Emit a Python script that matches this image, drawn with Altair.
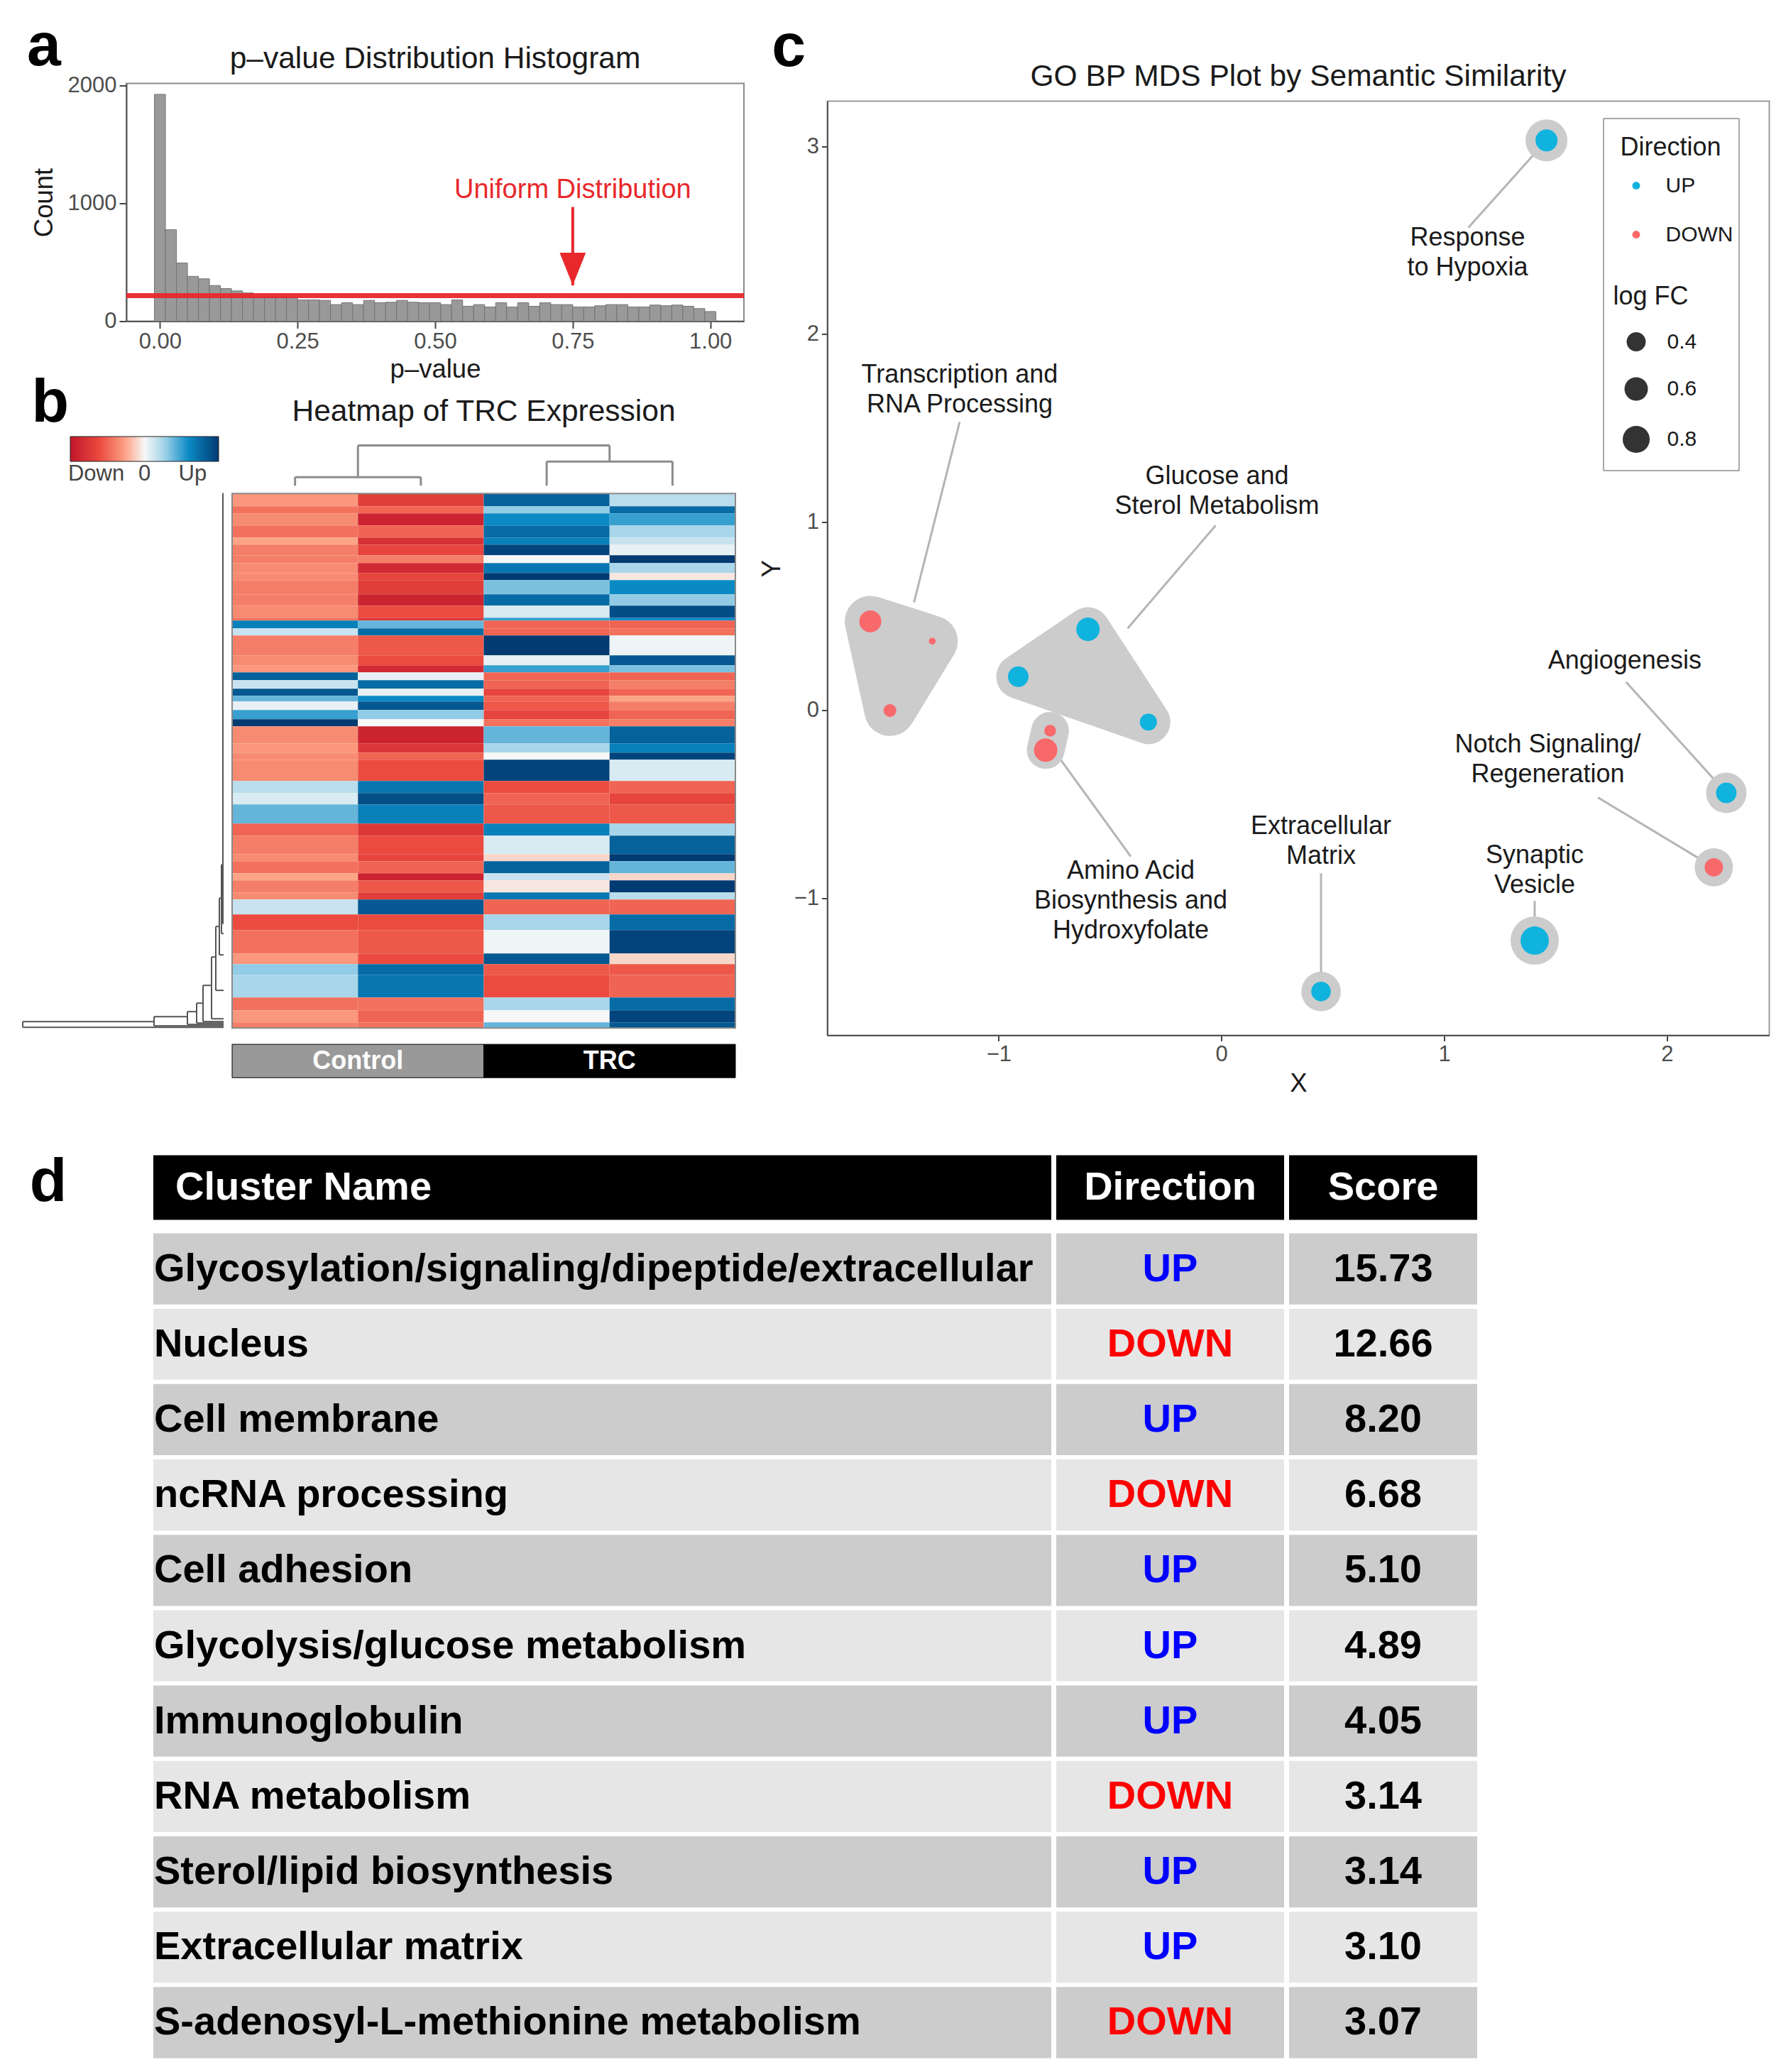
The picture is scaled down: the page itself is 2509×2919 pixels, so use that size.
import altair as alt
import pandas as pd

FONT = "Liberation Sans"
INK = "#1a1a1a"
TICKLAB = "#4d4d4d"
RED = "#E8282B"

# ======================= Panel a: p-value histogram =======================
p_bin_center = [0.00, 0.02, 0.04, 0.06, 0.08, 0.10, 0.12, 0.14, 0.16, 0.18,
                0.20, 0.22, 0.24, 0.26, 0.28, 0.30, 0.32, 0.34, 0.36, 0.38,
                0.40, 0.42, 0.44, 0.46, 0.48, 0.50, 0.52, 0.54, 0.56, 0.58,
                0.60, 0.62, 0.64, 0.66, 0.68, 0.70, 0.72, 0.74, 0.76, 0.78,
                0.80, 0.82, 0.84, 0.86, 0.88, 0.90, 0.92, 0.94, 0.96, 0.98, 1.00]
p_count = [1927, 777, 495, 381, 360, 303, 277, 257, 240, 205,
           205, 205, 200, 181, 181, 177, 141, 157, 141, 177,
           157, 161, 177, 161, 157, 157, 141, 181, 127, 141,
           121, 157, 121, 157, 127, 157, 141, 141, 121, 121,
           131, 141, 141, 121, 121, 137, 131, 137, 127, 107, 82]
P_BINWIDTH = 0.02
uniform_count = [217]
note_text = ["Uniform Distribution"]
note_p = [0.75]
note_count = [1114]
arrow_from = [970]
arrow_tip = [304]

# ======================= Panel b: heatmap =======================
sample_names = ["Control 1", "Control 2", "TRC 1", "TRC 2"]
group_names = ["Control", "TRC"]
hm_span = [9, 5, 8.5, 8.5, 5, 7.5, 5.5, 7, 5, 10, 8, 8.5, 2, 5.5, 5, 14, 7, 5, 5.5, 6,
           5, 4, 6, 6.5, 5, 12, 6.5, 5, 15, 8.5, 8, 13.5, 8.5, 13, 5, 8.5, 5, 8.5, 5, 10.5,
           11, 16.5, 7.5, 7.5, 16, 9, 8.5, 4]
hm_ctrl1 = [-0.6, -0.9, -0.7, -0.9, -0.5, -0.8, -0.8, -0.7, -0.7, -0.8, -0.8, -0.7, -0.9, 1.3, 0.3, -0.8,
            -0.7, -0.6, 1.6, 0.3, 1.7, 0.8, 0.1, 1.0, 2.0, -0.7, -0.6, -0.7, -0.7, 0.4, 0.2, 0.8,
            -1.0, -0.8, -0.7, -0.9, -0.5, -0.8, -0.7, 0.3, -1.2, -0.9, -0.6, 0.6, 0.5, -0.9, -0.6, -0.8]
hm_ctrl2 = [-1.4, -1.0, -1.8, -1.0, -1.6, -1.3, -0.8, -1.7, -1.3, -1.4, -1.8, -1.2, -1.5, 0.8, 1.5, -1.1,
            -1.2, -1.7, 0.1, 1.5, 0.1, 1.2, 1.7, 0.6, 0.0, -1.8, -1.5, -1.0, -1.2, 1.4, 1.8, 1.3,
            -1.5, -1.2, -1.3, -1.0, -1.8, -1.1, -1.4, 1.7, -1.2, -1.1, -1.2, 1.5, 1.4, -0.9, -1.0, -0.9]
hm_trc1 = [1.6, 0.6, 1.2, 1.5, 1.3, 1.9, 0.0, 1.4, 2.0, 0.7, 1.5, 0.2, 1.0, -1.0, -1.0, 2.0,
           0.1, 1.0, -1.0, -1.0, -1.3, -1.0, -1.1, -1.3, -0.9, 0.8, 0.5, 0.0, 1.9, -1.2, -1.0, -1.1,
           1.3, 0.2, -0.2, 1.6, 0.3, -0.1, 1.4, -1.0, 0.5, 0.05, 1.7, -1.1, -1.2, 0.5, 0.0, 0.8]
hm_trc2 = [0.4, 1.5, 1.0, 0.5, 0.3, 0.1, 2.0, 0.5, -0.1, 1.2, 0.6, 1.8, 1.2, -1.0, -0.9, 0.05,
           1.7, 0.7, -1.0, -0.8, -1.0, -0.5, -0.8, -1.0, -0.8, 1.6, 1.3, 1.9, 0.2, -1.0, -1.3, -1.1,
           0.5, 1.6, 2.0, 0.8, -0.2, 2.0, 0.4, -1.0, 1.5, 1.9, -0.2, -1.1, -1.0, 1.5, 1.9, 1.7]
col_merge_height = [0.6, 1.7, 2.83]          # Control pair, TRC pair, root
row_node_height = [14.15, 4.9, 2.55, 1.9, 1.45, 0.85, 0.55, 0.3, 0.15, 0.05]
row_node_upper = [372, 368.5, 365, 359, 346.5, 326.5, 305, 285, 261.5, 0]
row_node_lower = [376, 375, 374, 373, 372, 370, 350, 325, 310, 303]

# ======================= Panel c: MDS plot =======================
go_cluster = ["Transcription", "Transcription", "Transcription", "Glucose", "Glucose", "Glucose",
              "Amino", "Amino", "ECM", "Synaptic", "Notch", "Angiogenesis", "Hypoxia"]
go_x = [-1.576, -1.298, -1.488, -0.599, -0.328, -0.912, -0.769, -0.789, 0.447, 1.406, 2.210, 2.266, 1.459]
go_y = [0.472, 0.367, -0.002, 0.430, -0.064, 0.178, -0.110, -0.213, -1.498, -1.227, -0.837, -0.441, 3.032]
go_dir = ["DOWN", "DOWN", "DOWN", "UP", "UP", "UP", "DOWN", "DOWN", "UP", "UP", "DOWN", "UP", "UP"]
go_logfc = [0.53, 0.05, 0.18, 0.60, 0.32, 0.46, 0.15, 0.60, 0.42, 0.88, 0.37, 0.46, 0.53]
lab_text = ["Response\nto Hypoxia", "Transcription and\nRNA Processing", "Glucose and\nSterol Metabolism",
            "Amino Acid\nBiosynthesis and\nHydroxyfolate", "Extracellular\nMatrix", "Synaptic\nVesicle",
            "Notch Signaling/\nRegeneration", "Angiogenesis"]
lab_x = [1.105, -1.175, -0.020, -0.407, 0.447, 1.406, 1.465, 1.810]
lab_y = [2.434, 1.706, 1.165, -1.016, -0.699, -0.851, -0.262, 0.261]
seg_x0 = [1.108, -1.175, -0.026, -0.407, 0.447, 1.406, 1.690, 1.816]
seg_y0 = [2.568, 1.534, 0.983, -0.779, -0.869, -1.016, -0.465, 0.150]
seg_x1 = [1.459, -1.380, -0.421, -0.728, 0.447, 1.406, 2.210, 2.266]
seg_y1 = [3.032, 0.573, 0.435, -0.254, -1.498, -1.227, -0.837, -0.441]

# ======================= Panel d: table =======================
tbl_name = ["Glycosylation/signaling/dipeptide/extracellular", "Nucleus", "Cell membrane",
            "ncRNA processing", "Cell adhesion", "Glycolysis/glucose metabolism", "Immunoglobulin",
            "RNA metabolism", "Sterol/lipid biosynthesis", "Extracellular matrix",
            "S-adenosyl-L-methionine metabolism"]
tbl_dir = ["UP", "DOWN", "UP", "DOWN", "UP", "UP", "UP", "DOWN", "UP", "UP", "DOWN"]
tbl_score = [15.73, 12.66, 8.20, 6.68, 5.10, 4.89, 4.05, 3.14, 3.14, 3.10, 3.07]
tbl_header = ["Cluster Name", "Direction", "Score"]

LETTER_FS = 86
TITLE_FS = 42.5
HM_STOPS = [-2, -1.2, -0.5, 0, 0.5, 1.2, 2]
HM_COLORS = ["#c0152b", "#eb4b3f", "#fca486", "#f7f7f7", "#a9d6ea", "#0a8ac4", "#023a72"]


def indep(ch):
    return ch.resolve_scale(color="independent", fill="independent", size="independent")


def letter(ch, **kw):
    return alt.Title(ch, font=FONT, fontSize=LETTER_FS, fontWeight="bold", color="#000000",
                     anchor="start", **kw)


def ax(**kw):
    base = dict(labelFont=FONT, labelFontSize=31, labelColor=TICKLAB, titleFont=FONT,
                titleFontSize=36.5, titleColor=INK, titleFontWeight="normal",
                tickColor="#444444", tickSize=10, tickWidth=2, domainColor="#555555",
                domainWidth=2, grid=False, labelPadding=4)
    base.update(kw)
    return alt.Axis(**base)


def ttl(text, **kw):
    return alt.Title(text, font=FONT, fontSize=TITLE_FS, fontWeight="normal", color=INK,
                     anchor="middle", **kw)


# ---------------------------- chart a ----------------------------
df_a = pd.DataFrame({"p": p_bin_center, "count": p_count})
df_a["lo"] = df_a["p"] - P_BINWIDTH / 2
df_a["hi"] = df_a["p"] + P_BINWIDTH / 2
xa_s = alt.Scale(domain=[-0.061, 1.061], nice=False, zero=False)
ya_s = alt.Scale(domain=[0, 2020], nice=False)
xa_ax = ax(values=[0, 0.25, 0.5, 0.75, 1.0], format=".2f", title="p–value", titlePadding=6)
ya_ax = ax(values=[0, 1000, 2000], format="d", title="Count", titlePadding=14)

bars = alt.Chart(df_a).mark_rect(color="#999999", stroke="#737373", strokeWidth=1).encode(
    x=alt.X("lo:Q", scale=xa_s, axis=xa_ax), x2="hi:Q",
    y=alt.Y("count:Q", scale=ya_s, axis=ya_ax), y2=alt.datum(0))
uni = alt.Chart(pd.DataFrame({"count": uniform_count})).mark_rule(
    color=RED, strokeWidth=7, opacity=0.95).encode(y=alt.Y("count:Q", scale=ya_s, axis=ya_ax))
df_arrow = pd.DataFrame({"p": note_p, "count": arrow_from, "tip": arrow_tip})
shaft = alt.Chart(df_arrow).mark_rule(color=RED, strokeWidth=4).encode(
    x=alt.X("p:Q", scale=xa_s, axis=xa_ax), y=alt.Y("count:Q", scale=ya_s, axis=ya_ax), y2="tip:Q")
head = alt.Chart(df_arrow).mark_point(shape="M-0.8,-2L0.8,-2L0,0Z", filled=True, color=RED,
                                      opacity=1, size=2116).encode(
    x=alt.X("p:Q", scale=xa_s, axis=xa_ax), y=alt.Y("tip:Q", scale=ya_s, axis=ya_ax))
note = alt.Chart(pd.DataFrame({"p": note_p, "count": note_count, "t": note_text})).mark_text(
    color=RED, font=FONT, fontSize=38, baseline="middle").encode(
    x=alt.X("p:Q", scale=xa_s, axis=xa_ax), y=alt.Y("count:Q", scale=ya_s, axis=ya_ax), text="t:N")

chart_a = alt.layer(bars, uni, shaft, head, note).properties(
    width=870, height=335, title=ttl("p–value Distribution Histogram", offset=0),
    view=alt.ViewBackground(stroke="#8c8c8c", strokeWidth=2))

# ---------------------------- chart b ----------------------------
ROW_PX = 2.0          # pixels per heatmap row
COL_PX = 177.25       # pixels per heatmap column
INSET_PX = 149.0      # heatmap starts this far right of the panel's plot origin
COL_LEAF_GAP = 5.5    # rows between heatmap top and column-dendrogram leaves
COL_H_SCALE = 10.0    # rows per unit of column merge height
ROW_GAP = 12.0 / COL_PX
ROW_K = 20.0 / COL_PX
ANNOT_GAP = 11.5
ANNOT_H = 23.5

recs = []
start = 0.0
vals = [hm_ctrl1, hm_ctrl2, hm_trc1, hm_trc2]
for i, sp in enumerate(hm_span):
    for j, nm in enumerate(sample_names):
        recs.append({"sample": nm, "c0": j, "c1": j + 1, "r0": start, "r1": start + sp,
                     "value": vals[j][i]})
    start += sp
R = start
df_hm = pd.DataFrame(recs)


def cy(h):
    return -(COL_LEAF_GAP + COL_H_SCALE * h)


hC, hT, hR = col_merge_height
ctr = [j + 0.5 for j in range(4)]
mC = (ctr[0] + ctr[1]) / 2
mT = (ctr[2] + ctr[3]) / 2
cseg = [
    (ctr[0], ctr[0], cy(0), cy(hC)), (ctr[1], ctr[1], cy(0), cy(hC)), (ctr[0], ctr[1], cy(hC), cy(hC)),
    (ctr[2], ctr[2], cy(0), cy(hT)), (ctr[3], ctr[3], cy(0), cy(hT)), (ctr[2], ctr[3], cy(hT), cy(hT)),
    (mC, mC, cy(hC), cy(hR)), (mT, mT, cy(hT), cy(hR)), (mC, mT, cy(hR), cy(hR)),
]
df_cseg = pd.DataFrame(cseg, columns=["x", "x2", "y", "y2"])


def rx(h):
    return -(ROW_GAP + ROW_K * h)


rseg = []
n = len(row_node_height)
for i in range(n):
    h = row_node_height[i]
    hn = row_node_height[i + 1] if i + 1 < n else 0
    rseg.append((rx(h), rx(h), row_node_upper[i], row_node_lower[i]))
    rseg.append((rx(h), rx(hn), row_node_upper[i], row_node_upper[i]))
    rseg.append((rx(h), rx(0), row_node_lower[i], row_node_lower[i]))
df_rseg = pd.DataFrame(rseg, columns=["x", "x2", "y", "y2"])

df_annot = pd.DataFrame({"group": group_names, "c0": [0, 2], "c1": [2, 4],
                         "r0": [R + ANNOT_GAP] * 2, "r1": [R + ANNOT_GAP + ANNOT_H] * 2})
df_annot["rm"] = (df_annot["r0"] + df_annot["r1"]) / 2
df_annot["cm"] = (df_annot["c0"] + df_annot["c1"]) / 2
df_frame = pd.DataFrame({"c0": [0], "c1": [len(sample_names)], "r0": [0], "r1": [R]})

yb_dom = [cy(hR) - 0.3, R + ANNOT_GAP + ANNOT_H]
xb_dom = [-INSET_PX / COL_PX, len(sample_names)]
xb_s = alt.Scale(domain=xb_dom, nice=False, zero=False)
yb_s = alt.Scale(domain=yb_dom, nice=False, zero=False, reverse=True)


def XB(f):
    return alt.X(f, scale=xb_s, axis=None)


def YB(f):
    return alt.Y(f, scale=yb_s, axis=None)


hm = alt.Chart(df_hm).mark_rect().encode(
    x=XB("c0:Q"), x2="c1:Q", y=YB("r0:Q"), y2="r1:Q",
    color=alt.Color("value:Q", scale=alt.Scale(domain=HM_STOPS, range=HM_COLORS, clamp=True,
                                               interpolate="rgb"),
                    legend=alt.Legend(orient="none", legendX=-79, legendY=-12, direction="horizontal",
                                      gradientLength=209, gradientThickness=35, title=None,
                                      values=[-1.3, 0, 1.3],
                                      labelExpr="datum.value < -0.5 ? 'Down' : (datum.value > 0.5 ? 'Up' : '0')",
                                      labelFont=FONT, labelFontSize=31, labelColor="#444444",
                                      gradientStrokeColor="#222222", gradientStrokeWidth=1,
                                      labelOffset=3, padding=0)))
frame = alt.Chart(df_frame).mark_rect(fill="transparent", stroke="#8a8a8a", strokeWidth=2).encode(
    x=XB("c0:Q"), x2="c1:Q", y=YB("r0:Q"), y2="r1:Q")
cden = alt.Chart(df_cseg).mark_rule(color="#8c8c8c", strokeWidth=3).encode(
    x=XB("x:Q"), x2="x2:Q", y=YB("y:Q"), y2="y2:Q")
rden = alt.Chart(df_rseg).mark_rule(color="#555555", strokeWidth=2).encode(
    x=XB("x:Q"), x2="x2:Q", y=YB("y:Q"), y2="y2:Q")
annot = alt.Chart(df_annot).mark_rect(stroke="#000000", strokeWidth=1).encode(
    x=XB("c0:Q"), x2="c1:Q", y=YB("r0:Q"), y2="r1:Q",
    fill=alt.Fill("group:N", scale=alt.Scale(domain=group_names, range=["#999999", "#000000"]),
                  legend=None))
annot_t = alt.Chart(df_annot).mark_text(color="white", font=FONT, fontSize=36, fontWeight="bold",
                                        baseline="middle").encode(
    x=XB("cm:Q"), y=YB("rm:Q"), text="group:N")

B_W = (xb_dom[1] - xb_dom[0]) * COL_PX
B_H = (yb_dom[1] - yb_dom[0]) * ROW_PX
chart_b = alt.layer(hm, frame, cden, rden, annot, annot_t).properties(
    width=B_W, height=B_H,
    title=ttl("Heatmap of TRC Expression", dx=(len(sample_names) / 2 - xb_dom[0]) * COL_PX - B_W / 2,
              offset=14))

# ---------------------------- chart c ----------------------------
df_go = pd.DataFrame({"cluster": go_cluster, "x": go_x, "y": go_y, "direction": go_dir, "logfc": go_logfc})
SIZE_MAX = 1815
hull_w = {"Transcription": 72, "Glucose": 62, "Amino": 53}
hull_rows = []
for cl in df_go["cluster"].unique():
    sub = df_go[df_go["cluster"] == cl].reset_index(drop=True)
    pts = [(r.x, r.y) for r in sub.itertuples()]
    if len(pts) == 1:
        w = (sub["logfc"][0] * SIZE_MAX) ** 0.5 + 28
        pts = [pts[0], (pts[0][0] + 1e-4, pts[0][1])]
    else:
        w = hull_w[cl]
        if len(pts) > 2:
            pts = pts + [pts[0]]
    for k, (px, py) in enumerate(pts):
        hull_rows.append({"cluster": cl, "x": px, "y": py, "ord": k, "w": w})
df_hull = pd.DataFrame(hull_rows)
df_lab = pd.DataFrame({"t": lab_text, "x": lab_x, "y": lab_y})
df_lab["nl"] = df_lab["t"].str.count("\n") + 1
df_seg = pd.DataFrame({"x": seg_x0, "y": seg_y0, "x2": seg_x1, "y2": seg_y1})

xc_s = alt.Scale(domain=[-1.769, 2.459], nice=False, zero=False)
yc_s = alt.Scale(domain=[-1.731, 3.241], nice=False, zero=False)
xc_ax = ax(values=[-1, 0, 1, 2], format="d", title="X", titlePadding=8, tickSize=8)
yc_ax = ax(values=[-1, 0, 1, 2, 3], format="d", title="Y", titlePadding=12, tickSize=8)


def XC(f):
    return alt.X(f, scale=xc_s, axis=xc_ax)


def YC(f):
    return alt.Y(f, scale=yc_s, axis=yc_ax)


LEG_TXT = dict(labelFont=FONT, labelFontSize=30, labelColor=INK, titleFont=FONT,
               titleFontSize=36, titleFontWeight="normal", titleColor=INK)
segs = alt.Chart(df_seg).mark_rule(color="#b5b5b5", strokeWidth=3).encode(
    x=XC("x:Q"), y=YC("y:Q"), x2="x2:Q", y2="y2:Q")
hulls = alt.Chart(df_hull).mark_line(fill="#cccccc", stroke="#cccccc", strokeJoin="round",
                                     strokeCap="round", interpolate="linear").encode(
    x=XC("x:Q"), y=YC("y:Q"), order="ord:Q", detail="cluster:N",
    strokeWidth=alt.StrokeWidth("w:Q", scale=None))
dots = alt.Chart(df_go).mark_circle(opacity=1).encode(
    x=XC("x:Q"), y=YC("y:Q"),
    color=alt.Color("direction:N", scale=alt.Scale(domain=["UP", "DOWN"], range=["#10B3DD", "#F8696B"]),
                    legend=alt.Legend(title="log FC", titleOrient="bottom", titleAnchor="start",
                                      titleAlign="left", titlePadding=55,
                                      orient="none", legendX=1107, legendY=104,
                                      symbolType="circle", symbolSize=120, symbolStrokeWidth=0,
                                      symbolOffset=17.5, labelOffset=26.5, rowPadding=39, padding=0,
                                      **LEG_TXT)),
    size=alt.Size("logfc:Q", scale=alt.Scale(domain=[0, 1], range=[0, SIZE_MAX]),
                  legend=alt.Legend(title="Direction", values=[0.4, 0.6, 0.8], orient="none",
                                    legendX=1093, legendY=24, symbolType="circle",
                                    symbolFillColor="#333333", symbolStrokeColor="#333333",
                                    symbolStrokeWidth=0, symbolOffset=3, labelOffset=24,
                                    rowPadding=35, titlePadding=240, padding=24,
                                    strokeColor="#555555", **LEG_TXT)))
LAB_LH = 42
label_layers = []
for nl in sorted(df_lab["nl"].unique()):
    label_layers.append(
        alt.Chart(df_lab[df_lab["nl"] == nl]).mark_text(
            font=FONT, fontSize=36, color=INK, lineBreak="\n", lineHeight=LAB_LH,
            baseline="middle", dy=-(int(nl) - 1) * LAB_LH / 2).encode(
            x=XC("x:Q"), y=YC("y:Q"), text="t:N"))

chart_c = alt.layer(segs, hulls, dots, *label_layers).properties(
    width=1327, height=1316, view=alt.ViewBackground(stroke="#9a9a9a", strokeWidth=2))
c_head = alt.Chart(pd.DataFrame({"t": [""]})).mark_text().encode(text="t:N").properties(
    width=1327, height=2, title=ttl("GO BP MDS Plot by Semantic Similarity", offset=-16.5))

# ---------------------------- panel d ----------------------------
df_t = pd.DataFrame({"rank": list(range(1, len(tbl_name) + 1)), "name": tbl_name,
                     "dir": tbl_dir, "score": tbl_score})
df_t["shade"] = ["dark" if i % 2 == 0 else "light" for i in range(len(tbl_name))]
df_t["k"] = "c"
T_FS = 56
COLW = [1265, 321, 265]
BODY_H = 1162
HEAD_H = 91
yt = alt.Y("rank:O", axis=None, scale=alt.Scale(paddingInner=0.057, paddingOuter=0))
xk = alt.Scale(paddingInner=0, paddingOuter=0)


def body(field, width, left=False, color_field=None):
    rect = alt.Chart(df_t).mark_rect().encode(
        x=alt.X("k:N", axis=None, scale=xk), y=yt,
        fill=alt.Fill("shade:N", scale=alt.Scale(domain=["dark", "light"], range=["#cccccc", "#e6e6e6"]),
                      legend=None))
    tx_kw = dict(font=FONT, fontSize=T_FS, fontWeight="bold", baseline="middle")
    if left:
        tx = alt.Chart(df_t).mark_text(align="left", dx=1, color="#000000", **tx_kw).encode(
            x=alt.X("k:N", axis=None, scale=xk, bandPosition=0), y=yt, text=f"{field}:N")
    elif color_field:
        tx = alt.Chart(df_t).mark_text(align="center", **tx_kw).encode(
            x=alt.X("k:N", axis=None, scale=xk), y=yt, text=f"{field}:N",
            color=alt.Color(f"{color_field}:N", scale=alt.Scale(domain=["UP", "DOWN"],
                                                                 range=["#0000FF", "#FF0000"]),
                            legend=None))
    else:
        tx = alt.Chart(df_t).mark_text(align="center", color="#000000", **tx_kw).encode(
            x=alt.X("k:N", axis=None, scale=xk), y=yt, text=alt.Text(f"{field}:Q", format=".2f"))
    return indep(alt.layer(rect, tx)).properties(width=width, height=BODY_H)


def header(text, width, left=False):
    dfh = pd.DataFrame({"h": [text], "k": ["c"]})
    rect = alt.Chart(dfh).mark_rect(color="#000000").encode(
        x=alt.X("k:N", axis=None, scale=xk), y=alt.Y("h:N", axis=None, scale=xk))
    tx = alt.Chart(dfh).mark_text(color="white", font=FONT, fontSize=T_FS, fontWeight="bold",
                                  baseline="middle", align="left" if left else "center",
                                  dx=31 if left else 0).encode(
        x=alt.X("k:N", axis=None, scale=xk, bandPosition=0 if left else 0.5),
        y=alt.Y("h:N", axis=None, scale=xk), text="h:N")
    return alt.layer(rect, tx).properties(width=width, height=HEAD_H)


table = indep(alt.vconcat(
    indep(alt.hconcat(header(tbl_header[0], COLW[0], left=True), header(tbl_header[1], COLW[1]),
                      header(tbl_header[2], COLW[2]), spacing=5)),
    indep(alt.hconcat(body("name", COLW[0], left=True), body("dir", COLW[1], color_field="dir"),
                      body("score", COLW[2]), spacing=5)),
    spacing=17))

letter_d = alt.Chart(pd.DataFrame({"t": ["d"]})).mark_text(
    font=FONT, fontSize=LETTER_FS, fontWeight="bold", color="#000000", align="center",
    baseline="middle", dx=-120, dy=-7
).encode(text="t:N").properties(width=20, height=HEAD_H)

# ---------------------------- assemble ----------------------------
a_wrapped = indep(alt.vconcat(chart_a, title=letter("a", offset=-49, dx=-5)))
b_wrapped = indep(alt.vconcat(chart_b, title=letter("b", offset=-54, dx=14)))
c_wrapped = indep(alt.vconcat(c_head, chart_c, spacing=12, title=letter("c", offset=-24, dx=19)))
left_col = indep(alt.concat(a_wrapped, b_wrapped, columns=1, spacing=-15.5))
top_row = indep(alt.hconcat(left_col, c_wrapped, spacing=14.5))
d_row = indep(alt.hconcat(letter_d, table, spacing=17))

final = indep(alt.concat(top_row, d_row, columns=1, spacing=76)).properties(
    padding={"left": 22, "top": 14.5, "right": 0, "bottom": 2}
).configure(font=FONT).configure_view(stroke="transparent")

final.save("out.html", embed_options={"renderer": "svg", "actions": False})
